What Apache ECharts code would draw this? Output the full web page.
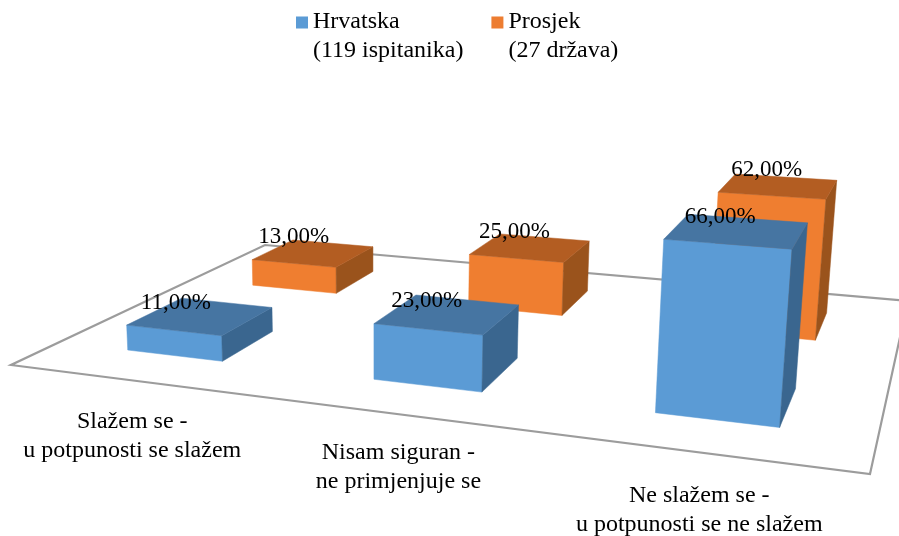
<!DOCTYPE html>
<html>
<head>
<meta charset="utf-8">
<style>
    html, body { margin: 0; padding: 0; background: #fff; }
    #chart { width: 899px; height: 536px; }
</style>
<script src="https://cdn.jsdelivr.net/npm/echarts@6/dist/echarts.min.js"></script>
</head>
<body>
<div id="chart"></div>
<script>
var categories = ['Slažem se -\nu potpunosti se slažem', 'Nisam siguran -\nne primjenjuje se', 'Ne slažem se -\nu potpunosti se ne slažem'];
var hrvatska = [11, 23, 66];
var prosjek = [13, 25, 62];
var seriesNames = ['Hrvatska\n(119 ispitanika)', 'Prosjek\n(27 država)'];

var FONT = '"Liberation Serif", "Times New Roman", serif';

// rubovi poda: prednji lijevi, prednji desni, straznji desni, straznji lijevi
var floor = [[11, 365], [870, 474], [908, 301], [265, 245]];
var BAR_SHARE = 0.4;
var LIFT_X = -0.0615;   // ocitano s okomitih rubova stupaca
var LIFT_W = -0.000162;

// perspektiva poda (jedinicni kvadrat -> cetverokut)
var persp = (function(q){
    var dx1 = q[1][0] - q[2][0], dx2 = q[3][0] - q[2][0], sx = q[0][0] - q[1][0] + q[2][0] - q[3][0];
    var dy1 = q[1][1] - q[2][1], dy2 = q[3][1] - q[2][1], sy = q[0][1] - q[1][1] + q[2][1] - q[3][1];
    var den = dx1 * dy2 - dx2 * dy1;
    var g = (sx * dy2 - dx2 * sy) / den;
    var h = (dx1 * sy - sx * dy1) / den;
    return {
        a: q[1][0] - q[0][0] + g * q[1][0], b: q[3][0] - q[0][0] + h * q[3][0], c: q[0][0],
        d: q[1][1] - q[0][1] + g * q[1][1], e: q[3][1] - q[0][1] + h * q[3][1], f: q[0][1],
        g: g, h: h
    };
})(floor);

// u: po kategorijama, v: po dubini, lift: visina u pikselima osi
function project(u, v, lift){
    var w = persp.g * u + persp.h * v + 1 + LIFT_W * lift;
    return [
        (persp.a * u + persp.b * v + persp.c + LIFT_X * lift) / w,
        (persp.d * u + persp.e * v + persp.f - lift) / w
    ];
}

function percent(value){
    return value.toFixed(2).replace('.', ',') + '%';
}

function face(points, color){
    return {
        type: 'polygon',
        shape: {points: points},
        style: {fill: color, stroke: color, lineWidth: 0.5}
    };
}

// stupac; row je red u dubini (0 naprijed, 1 straga)
function barRenderer(row, colors){
    return function(params, api){
        var sys = params.coordSys;
        var value = api.value(1);
        var lift = api.size([0, value])[1];
        var band = api.size([1, 0])[0] / sys.width;
        var center = (api.coord([api.value(0), 0])[0] - sys.x) / sys.width;
        var u0 = center - band * BAR_SHARE / 2, u1 = center + band * BAR_SHARE / 2;
        var v0 = (row + 0.5) / 2 - BAR_SHARE / 4, v1 = (row + 0.5) / 2 + BAR_SHARE / 4;

        var fl = project(u0, v0, 0), fr = project(u1, v0, 0), br = project(u1, v1, 0);
        var tfl = project(u0, v0, lift), tfr = project(u1, v0, lift);
        var tbr = project(u1, v1, lift), tbl = project(u0, v1, lift);
        var mid = project(center, (v0 + v1) / 2, lift);

        return {
            type: 'group',
            children: [
                face([fl, fr, tfr, tfl], colors.front),
                face([fr, br, tbr, tfr], colors.side),
                face([tfl, tfr, tbr, tbl], colors.top),
                {
                    type: 'text',
                    z2: 10,
                    style: {
                        text: percent(value),
                        x: mid[0] - 19 + (row ? -1 : -6) + 12 * (center - 1 / 6),
                        y: mid[1] - (row ? 16 : 13.5),
                        fill: '#000',
                        fontFamily: FONT,
                        fontSize: 23,
                        align: 'center',
                        verticalAlign: 'middle'
                    }
                }
            ]
        };
    };
}

function floorRenderer(){
    var corners = [project(0, 0, 0), project(1, 0, 0), project(1, 1, 0), project(0, 1, 0)];
    return {
        type: 'polygon',
        shape: {points: corners},
        style: {fill: 'none', stroke: '#9c9c9c', lineWidth: 2.2}
    };
}

var labelNudge = [[2, 56], [4, 54], [0, 58]];
function labelRenderer(params, api){
    var sys = params.coordSys;
    var i = api.value(0);
    var p = project((api.coord([i, 0])[0] - sys.x) / sys.width, 0, 0);
    return {
        type: 'text',
        style: {
            text: categories[i],
            x: p[0] + labelNudge[i][0],
            y: p[1] + labelNudge[i][1],
            fill: '#000',
            fontFamily: FONT,
            fontSize: 24,
            lineHeight: 29,
            align: 'center',
            verticalAlign: 'middle'
        }
    };
}

function rows(values){
    return values.map(function(v, i){
        return [i, v];
    });
}

var myChart = echarts.init(document.getElementById('chart'), null, {renderer: 'canvas'});
myChart.setOption({
    animation: false,
    backgroundColor: '#fff',
    legend: {
        left: 296,
        top: 7,
        padding: 0,
        itemWidth: 12,
        itemHeight: 39,
        itemGap: 28,
        // kvadratic uz prvi red teksta
        icon: 'path://M0 0H12V12H0ZM0 39L12 39',
        selectedMode: false,
        data: seriesNames,
        textStyle: {
            fontFamily: FONT,
            fontSize: 24,
            lineHeight: 29,
            color: '#000'
        }
    },
    // visina mreze: 2.47 px po postotku
    grid: {left: 0, top: 100, width: 899, height: 247},
    xAxis: {type: 'category', show: false, data: categories},
    yAxis: {type: 'value', show: false, min: 0, max: 100},
    series: [
        {
            name: 'pod',
            type: 'custom',
            z: 1,
            silent: true,
            renderItem: floorRenderer,
            data: [[0, 0]]
        },
        {
            name: seriesNames[1],
            type: 'custom',
            z: 2,
            itemStyle: {color: '#ed7d31'},
            encode: {x: 0, y: 1},
            renderItem: barRenderer(1, {front: '#ef7e30', side: '#9a531c', top: '#b35d22'}),
            data: rows(prosjek)
        },
        {
            name: seriesNames[0],
            type: 'custom',
            z: 3,
            itemStyle: {color: '#5b9bd5'},
            encode: {x: 0, y: 1},
            renderItem: barRenderer(0, {front: '#5b9bd5', side: '#3a668f', top: '#4675a2'}),
            data: rows(hrvatska)
        },
        {
            name: 'oznake',
            type: 'custom',
            z: 4,
            silent: true,
            renderItem: labelRenderer,
            data: rows([0, 0, 0])
        }
    ]
});
</script>
</body>
</html>
